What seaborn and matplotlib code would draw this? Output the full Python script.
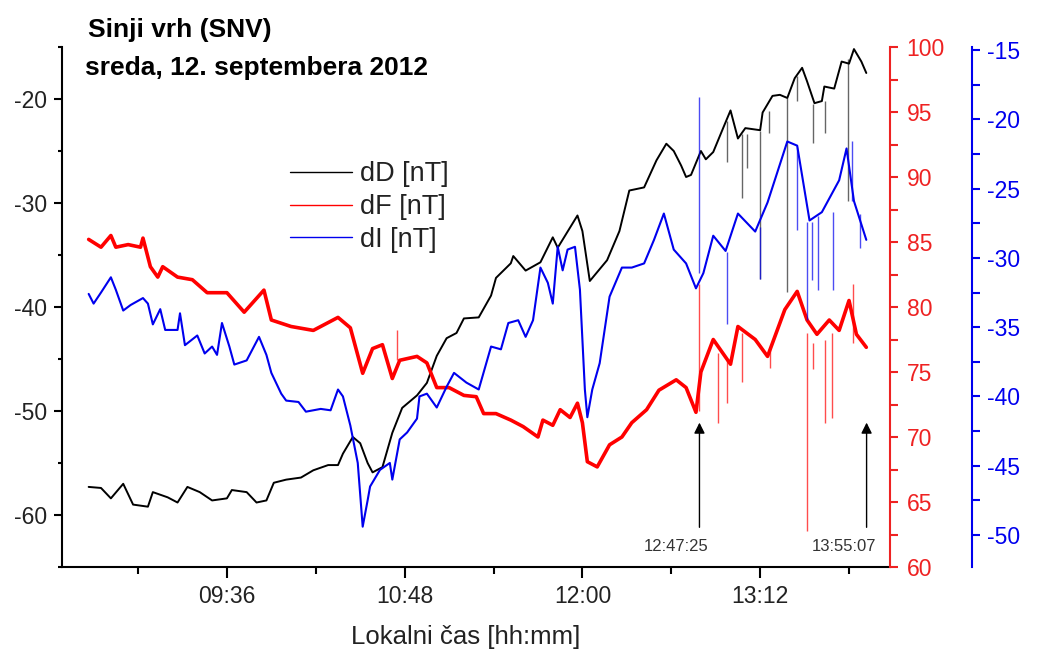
import matplotlib
matplotlib.use("Agg")
import matplotlib.pyplot as plt
import matplotlib.dates as mdates
import matplotlib.transforms as mtransforms
from matplotlib.lines import Line2D
from matplotlib.ticker import MultipleLocator
import pandas as pd
import seaborn as sns

DAY = "2012-09-12 "

# dD [nT], left axis
dd_time = ["08:40", "08:45", "08:49", "08:54", "08:58", "09:04", "09:06", "09:12", "09:16", "09:20",
           "09:25", "09:30", "09:36", "09:38", "09:44", "09:48", "09:52", "09:55", "10:00", "10:06",
           "10:11", "10:17", "10:21", "10:23", "10:27", "10:30", "10:33", "10:35", "10:39", "10:43",
           "10:47", "10:53", "10:57", "11:01", "11:05", "11:09", "11:12", "11:18", "11:23", "11:25",
           "11:31", "11:32", "11:37", "11:43", "11:48", "11:50", "11:58", "12:00", "12:03", "12:10",
           "12:15", "12:19", "12:25", "12:30", "12:34", "12:37", "12:40", "12:42", "12:44", "12:48",
           "12:50", "12:53", "12:57", "13:00", "13:03", "13:06", "13:12", "13:13", "13:17", "13:20",
           "13:23", "13:26", "13:29", "13:31", "13:34", "13:37", "13:38", "13:42", "13:45", "13:48",
           "13:50", "13:53", "13:55"]
dd_val = [-57.3, -57.4, -58.4, -57.0, -59.0, -59.2, -57.8, -58.3, -58.8, -57.3,
          -57.8, -58.6, -58.4, -57.6, -57.8, -58.8, -58.6, -56.9, -56.6, -56.4,
          -55.7, -55.2, -55.2, -54.1, -52.5, -53.1, -55.0, -55.9, -55.4, -52.1,
          -49.7, -48.5, -47.3, -44.7, -43.0, -42.5, -41.1, -41.0, -38.9, -37.2,
          -35.8, -35.1, -36.5, -35.7, -33.3, -34.3, -31.2, -32.7, -37.5, -35.5,
          -32.7, -28.8, -28.5, -25.9, -24.3, -25.0, -26.4, -27.5, -27.3, -25.0,
          -25.8, -25.1, -22.8, -21.1, -23.8, -22.8, -23.0, -21.3, -19.7, -19.6,
          -19.9, -18.0, -17.0, -18.3, -20.4, -20.2, -18.8, -19.0, -16.4, -16.6,
          -15.2, -16.4, -17.5]

# dF [nT], red axis
df_time = ["08:40", "08:45", "08:49", "08:51", "08:56", "09:01", "09:02", "09:05", "09:08", "09:10",
           "09:16", "09:22", "09:28", "09:36", "09:43", "09:51", "09:54", "10:02", "10:11", "10:21",
           "10:26", "10:31", "10:35", "10:39", "10:43", "10:46", "10:53", "10:57", "11:01", "11:06",
           "11:12", "11:17", "11:20", "11:25", "11:31", "11:36", "11:42", "11:44", "11:48", "11:51",
           "11:55", "11:58", "12:00", "12:02", "12:06", "12:11", "12:16", "12:20", "12:26", "12:31",
           "12:38", "12:42", "12:46", "12:48", "12:53", "13:00", "13:03", "13:10", "13:15", "13:22",
           "13:27", "13:31", "13:35", "13:40", "13:44", "13:48", "13:51", "13:55"]
df_val = [85.2, 84.6, 85.5, 84.6, 84.8, 84.6, 85.3, 83.1, 82.3, 83.1,
          82.3, 82.1, 81.1, 81.1, 79.6, 81.3, 79.0, 78.5, 78.2, 79.2,
          78.4, 74.9, 76.8, 77.1, 74.5, 75.9, 76.2, 75.7, 73.8, 73.8,
          73.2, 73.1, 71.8, 71.8, 71.3, 70.8, 70.0, 71.3, 70.9, 72.1,
          71.5, 72.6, 71.1, 68.1, 67.7, 69.4, 70.0, 71.1, 72.1, 73.6,
          74.4, 73.8, 71.9, 75.0, 77.5, 75.6, 78.5, 77.5, 76.2, 79.8,
          81.2, 79.0, 77.9, 79.0, 78.2, 80.5, 77.9, 76.9]

# dI [nT], blue axis
di_time = ["08:40", "08:42", "08:45", "08:49", "08:51", "08:54", "08:57", "09:02", "09:04", "09:06",
           "09:09", "09:11", "09:16", "09:17", "09:19", "09:24", "09:27", "09:30", "09:32", "09:34",
           "09:37", "09:39", "09:44", "09:49", "09:52", "09:54", "09:58", "10:00", "10:05", "10:08",
           "10:14", "10:18", "10:21", "10:23", "10:26", "10:29", "10:31", "10:33", "10:34", "10:38",
           "10:42", "10:43", "10:46", "10:49", "10:53", "10:54", "10:57", "11:01", "11:05", "11:08",
           "11:13", "11:18", "11:23", "11:27", "11:30", "11:34", "11:37", "11:40", "11:43", "11:46",
           "11:48", "11:50", "11:52", "11:54", "11:57", "11:59", "12:01", "12:02", "12:04", "12:07",
           "12:11", "12:16", "12:20", "12:25", "12:29", "12:33", "12:37", "12:42", "12:46", "12:49",
           "12:53", "12:58", "13:03", "13:10", "13:15", "13:23", "13:27", "13:32", "13:37", "13:44",
           "13:47", "13:50", "13:55"]
di_val = [-32.6, -33.3, -32.5, -31.4, -32.3, -33.8, -33.4, -32.9, -33.3, -34.8,
          -33.7, -35.2, -35.2, -34.0, -36.3, -35.6, -36.9, -36.4, -37.0, -34.7,
          -36.4, -37.7, -37.4, -35.7, -37.0, -38.3, -39.8, -40.3, -40.4, -41.1,
          -40.9, -41.0, -39.5, -40.0, -42.1, -44.8, -49.4, -47.5, -46.5, -45.3,
          -44.8, -46.0, -43.1, -42.6, -41.6, -40.0, -39.8, -40.8, -39.3, -38.3,
          -39.0, -39.5, -36.4, -36.6, -34.7, -34.5, -35.7, -34.5, -30.7, -31.8,
          -33.3, -29.2, -30.9, -29.4, -29.2, -32.3, -39.5, -41.5, -39.5, -37.6,
          -32.8, -30.7, -30.7, -30.4, -28.7, -26.8, -29.4, -30.4, -32.2, -31.1,
          -28.4, -29.5, -26.8, -28.1, -26.0, -21.6, -21.9, -27.3, -26.7, -24.4,
          -22.1, -25.9, -28.7]

# short disturbances (time, value before, value at tip)
dd_spike_time = ["12:58:30", "13:04:36", "13:06:40", "13:11:55", "13:15:35",
                 "13:22:55", "13:26:55", "13:33:25", "13:38:15", "13:47:35"]
dd_spike_from = [-22.1, -23.4, -23.4, -23.1, -21.2, -19.9, -17.8, -20.5, -20.2, -16.2]
dd_spike_to = [-26.1, -29.5, -26.6, -37.3, -23.3, -38.6, -20.2, -24.2, -23.3, -29.8]

df_spike_time = ["10:44:55", "12:47:25", "12:55:00", "12:58:30", "13:04:36", "13:16:00",
                 "13:31:10", "13:33:25", "13:38:15", "13:41:05", "13:49:35"]
df_spike_from = [75.9, 72.0, 76.5, 75.9, 78.0, 76.9, 78.0, 77.2, 77.5, 78.0, 77.2]
df_spike_to = [78.2, 81.8, 71.1, 72.6, 74.2, 75.3, 62.8, 75.2, 71.1, 71.5, 81.8]

di_spike_time = ["12:47:25", "12:58:30", "13:11:55", "13:26:55", "13:31:10",
                 "13:33:00", "13:35:25", "13:41:30", "13:49:10", "13:52:25"]
di_spike_from = [-31.1, -29.6, -27.8, -22.0, -27.4, -27.4, -27.0, -26.7, -25.9, -26.8]
di_spike_to = [-18.4, -34.8, -31.5, -28.0, -34.5, -31.6, -32.3, -32.3, -21.6, -29.3]

event_time = ["12:47:25", "13:55:07"]

xtick_major = ["09:36", "10:48", "12:00", "13:12"]
xtick_minor = ["09:00", "10:12", "11:24", "12:36", "13:48"]
x_range = ["08:29:12", "14:04:36"]

RED = "#ff0000"
RED_AXIS = "#ee2222"
BLUE = "#0000ee"
TXT = "#222222"


def to_time(values):
    return pd.to_datetime([DAY + v for v in values])


def to_num(values):
    return mdates.date2num(to_time(values).to_pydatetime())


sns.set_theme(style="ticks")
plt.rcParams["font.family"] = ["Liberation Sans", "DejaVu Sans"]
plt.rcParams["axes.unicode_minus"] = False

fig = plt.figure(figsize=(10.45, 6.5), dpi=100)
ax = fig.add_axes([62 / 1045, 83 / 650, 828 / 1045, 520 / 650])
ax_f = ax.twinx()
ax_i = ax.twinx()
ax_i.spines["right"].set_position(("axes", 910 / 828))

sns.lineplot(x=to_time(dd_time), y=dd_val, ax=ax, color="black", lw=1.4,
             estimator=None, sort=False)
sns.lineplot(x=to_time(df_time), y=df_val, ax=ax_f, color=RED, lw=2.6,
             estimator=None, sort=False)
sns.lineplot(x=to_time(di_time), y=di_val, ax=ax_i, color=BLUE, lw=1.5,
             estimator=None, sort=False)

ax.vlines(to_num(dd_spike_time), dd_spike_from, dd_spike_to, color="black", lw=1, alpha=0.6)
ax_f.vlines(to_num(df_spike_time), df_spike_from, df_spike_to, color=RED, lw=1, alpha=0.7)
ax_i.vlines(to_num(di_spike_time), di_spike_from, di_spike_to, color=BLUE, lw=1, alpha=0.7)

ax.set_xlim(to_num(x_range))
ax.set_ylim(-65, -15)
ax_f.set_ylim(60, 100)
ax_i.set_ylim(-52.31, -14.78)

# main axis: left + bottom only
for side in ["top", "right"]:
    ax.spines[side].set_visible(False)
for a in (ax_f, ax_i):
    for side in ["top", "left", "bottom"]:
        a.spines[side].set_visible(False)
ax.spines["left"].set_linewidth(1.5)
ax.spines["bottom"].set_linewidth(1.5)
ax.spines["left"].set_color("black")
ax.spines["bottom"].set_color("black")
ax_f.spines["right"].set_color(RED_AXIS)
ax_f.spines["right"].set_linewidth(1.5)
ax_i.spines["right"].set_color(BLUE)
ax_i.spines["right"].set_linewidth(1.5)

ax.set_xticks(to_num(xtick_major))
ax.set_xticks(to_num(xtick_minor), minor=True)
ax.xaxis.set_major_formatter(mdates.DateFormatter("%H:%M"))
ax.set_yticks([-60, -50, -40, -30, -20])
ax.set_yticks(list(range(-65, -10, 10)), minor=True)
ax.tick_params(axis="x", which="major", direction="out", length=8, width=1.5,
               labelsize=16.5, pad=5, colors="black", labelcolor=TXT)
ax.tick_params(axis="x", which="minor", direction="out", length=5, width=1.5, colors="black")
ax.tick_params(axis="y", which="major", direction="out", length=6, width=1.5,
               labelsize=16.5, pad=5, colors="black", labelcolor=TXT)
ax.tick_params(axis="y", which="minor", direction="out", length=3, width=1.5, colors="black")

ax_f.yaxis.set_major_locator(MultipleLocator(5))
ax_f.yaxis.set_minor_locator(MultipleLocator(2.5))
ax_f.tick_params(axis="y", which="both", direction="out", length=6, width=1.5,
                 labelsize=16.5, pad=6, colors=RED_AXIS)
ax_i.yaxis.set_major_locator(MultipleLocator(5))
ax_i.yaxis.set_minor_locator(MultipleLocator(2.5))
ax_i.tick_params(axis="y", which="both", direction="out", length=6, width=1.5,
                 labelsize=16.5, pad=5, colors=BLUE)

ax.set_ylabel("")
ax_f.set_ylabel("")
ax_i.set_ylabel("")
ax.set_xlabel("Lokalni čas [hh:mm]", fontsize=18.5, color=TXT)
ax.xaxis.set_label_coords(0.487, -0.112)

# marked moments
trans = mtransforms.blended_transform_factory(ax.transData, ax.transAxes)
for t, x in zip(event_time, to_num(event_time)):
    ax.annotate("", xy=(x, 0.283), xytext=(x, 0.071), xycoords=trans, textcoords=trans,
                arrowprops=dict(arrowstyle="-|>", color="black", lw=1, mutation_scale=16))
    ax.annotate(t, xy=(x, 0.04), xycoords=trans, xytext=(-16.5, 0),
                textcoords="offset points", ha="center", va="center",
                fontsize=12, color="#333333")

handles = [Line2D([], [], color="black", lw=1),
           Line2D([], [], color=RED, lw=1),
           Line2D([], [], color=BLUE, lw=1)]
leg = ax_i.legend(handles, ["dD [nT]", "dF [nT]", "dI [nT]"], loc="upper left",
                  bbox_to_anchor=(0.2754, 0.78), frameon=False, fontsize=19.5,
                  handlelength=2.3, handletextpad=0.3, labelspacing=0.25,
                  borderpad=0, borderaxespad=0)
for txt in leg.get_texts():
    txt.set_color(TXT)

fig.text(88 / 1045, 1 - 30 / 650, "Sinji vrh (SNV)", fontsize=19, fontweight="bold",
         va="center", ha="left", color="black")
fig.text(85 / 1045, 1 - 68 / 650, "sreda, 12. septembera 2012", fontsize=19,
         fontweight="bold", va="center", ha="left", color="black")

fig.savefig("out.png", dpi=100)
